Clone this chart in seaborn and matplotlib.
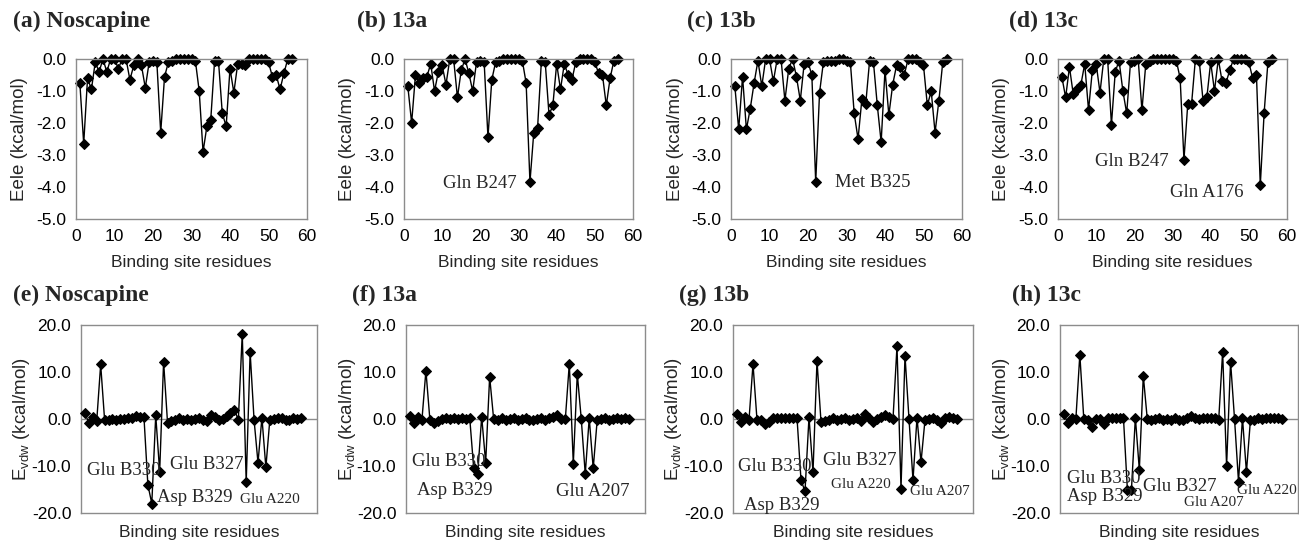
import matplotlib
matplotlib.use("Agg")
import matplotlib.pyplot as plt
import seaborn as sns
import pandas as pd
from matplotlib.ticker import FormatStrFormatter

sns.set_style("white")
plt.rcParams['font.family'] = ['Liberation Sans', 'DejaVu Sans']
plt.rcParams['mathtext.fontset'] = 'custom'
plt.rcParams['mathtext.rm'] = 'Liberation Sans'

residues = list(range(1, 57))

eele_noscapine = [-0.75, -2.65, -0.6, -0.95, -0.1, -0.4, 0.0, -0.4, 0.0, 0.0,
                  -0.3, 0.0, 0.0, -0.65, -0.2, 0.0, -0.2, -0.9, -0.1, -0.05,
                  -0.1, -2.3, -0.55, -0.1, -0.05, 0.0, 0.0, 0.0, 0.0, 0.0,
                  -0.05, -1.0, -2.9, -2.1, -1.9, -0.05, -0.05, -1.7, -2.1, -0.3,
                  -1.05, -0.15, -0.15, -0.2, 0.0, 0.0, 0.0, 0.0, 0.0, -0.1,
                  -0.55, -0.5, -0.95, -0.45, 0.0, 0.0]
eele_13a = [-0.85, -2.0, -0.5, -0.75, -0.6, -0.55, -0.15, -1.0, -0.4, -0.2,
            -0.8, 0.0, 0.0, -1.2, -0.35, 0.0, -0.45, -1.0, -0.1, -0.05,
            -0.1, -2.45, -0.65, -0.1, -0.05, 0.0, 0.0, 0.0, 0.0, 0.0,
            -0.05, -0.75, -3.85, -2.3, -2.15, -0.05, -0.1, -1.75, -1.45, -0.15,
            -0.95, -0.15, -0.5, -0.65, -0.1, 0.0, 0.0, 0.0, 0.0, -0.1,
            -0.45, -0.5, -1.45, -0.6, -0.05, 0.0]
eele_13b = [-0.85, -2.2, -0.55, -2.2, -1.55, -0.75, -0.05, -0.85, 0.0, 0.0,
            -0.7, 0.0, 0.0, -1.3, -0.3, 0.0, -0.55, -1.3, -0.15, -0.1,
            -0.5, -3.85, -1.05, -0.1, -0.05, -0.05, -0.05, 0.0, 0.0, -0.05,
            -0.1, -1.7, -2.5, -1.25, -1.4, -0.05, -0.1, -1.45, -2.6, -0.35,
            -1.75, -0.8, -0.2, -0.25, -0.5, 0.0, 0.0, 0.0, -0.1, -0.2,
            -1.45, -1.0, -2.3, -1.3, -0.1, 0.0]
eele_13c = [-0.55, -1.2, -0.25, -1.1, -0.95, -0.8, -0.15, -1.6, -0.35, -0.15,
            -1.05, 0.0, 0.0, -2.05, -0.4, -0.05, -1.0, -1.7, -0.1, -0.05,
            0.0, -1.6, -0.15, -0.05, 0.0, 0.0, 0.0, 0.0, 0.0, 0.0,
            -0.05, -0.6, -3.15, -1.4, -1.4, 0.0, -0.05, -1.3, -1.2, -0.1,
            -1.0, 0.0, -0.7, -0.75, -0.35, 0.0, 0.0, 0.0, 0.0, -0.1,
            -0.6, -0.5, -3.95, -1.7, -0.1, 0.0]

evdw_noscapine = [1.2, -0.8, 0.5, -0.4, 11.6, -0.2, -0.2, 0.0, -0.2, 0.0,
                  0.0, 0.3, 0.3, 0.7, 0.5, 0.5, -14.0, -18.0, 0.8, -11.2,
                  12.2, -0.8, -0.5, -0.3, 0.3, -0.2, 0.0, -0.2, 0.0, 0.3,
                  -0.3, -0.5, 0.8, 0.5, -0.2, 0.0, 0.6, 1.2, 2.0, -0.2,
                  18.1, -13.5, 14.2, -0.2, -9.3, 0.3, -10.3, -0.2, 0.0, 0.2,
                  0.3, -0.3, -0.2, 0.2, 0.0, 0.3]
evdw_13a = [0.7, -0.9, 0.4, -0.2, 10.3, -0.2, -0.8, -0.5, 0.0, 0.2,
            0.0, 0.2, 0.0, 0.2, 0.0, 0.2, -10.5, -11.7, 0.5, -9.3,
            9.0, 0.0, -0.2, 0.2, -0.2, 0.0, 0.2, -0.2, 0.0, 0.2,
            -0.3, -0.2, 0.0, 0.3, -0.2, 0.3, 0.4, 0.8, 0.0, 0.0,
            11.8, -9.5, 9.6, 0.0, -11.7, 0.2, -10.5, -0.2, 0.0, 0.2,
            -0.2, 0.0, 0.3, 0.0, 0.2, 0.0]
evdw_13b = [1.0, -0.6, 0.4, -0.2, 11.7, -0.2, -0.2, -1.1, -0.6, 0.2,
            0.3, 0.3, 0.3, 0.3, 0.3, 0.3, -13.0, -15.4, 0.4, -11.3,
            12.4, -0.6, -0.4, -0.2, 0.2, -0.2, 0.0, 0.2, -0.2, 0.0,
            0.2, -0.4, 1.0, 0.3, -0.7, 0.0, 0.5, 0.9, 0.5, 0.0,
            15.5, -14.8, 13.5, 0.0, -13.0, 0.3, -9.2, -0.2, 0.0, 0.2,
            -0.3, -0.8, 0.2, 0.5, 0.2, 0.0]
evdw_13c = [1.0, -0.9, 0.3, 0.0, 13.7, 0.0, -0.3, -1.7, 0.0, 0.0,
            -1.0, 0.2, 0.2, 0.2, 0.2, 0.2, -15.2, -15.2, 0.3, -10.8,
            9.2, 0.0, -0.2, 0.0, 0.2, -0.2, 0.0, -0.2, 0.2, -0.2,
            -0.3, 0.3, 0.6, 0.3, 0.0, 0.2, 0.3, 0.2, 0.3, -0.3,
            14.3, -10.0, 12.2, 0.0, -13.3, 0.2, -11.3, -0.3, -0.2, 0.2,
            0.0, 0.3, 0.3, 0.2, 0.3, 0.0]

top_titles = ["(a) Noscapine", "(b) 13a", "(c) 13b", "(d) 13c"]
bottom_titles = ["(e) Noscapine", "(f) 13a", "(g) 13b", "(h) 13c"]
top_series = [eele_noscapine, eele_13a, eele_13b, eele_13c]
bottom_series = [evdw_noscapine, evdw_13a, evdw_13b, evdw_13c]

# annotations: (text, x, y, ha, size)
top_notes = [
    [],
    [("Gln B247", 29.5, -3.9, 'right', 13.5)],
    [("Met B325", 27.0, -3.85, 'left', 13.5)],
    [("Gln B247", 9.6, -3.2, 'left', 13.5), ("Gln A176", 29.3, -4.17, 'left', 13.5)],
]
bottom_notes = [
    [("Glu B330", 1.6, -10.9, 'left', 13.5), ("Glu B327", 22.6, -9.6, 'left', 13.5),
     ("Asp B329", 19.2, -16.7, 'left', 13.5), ("Glu A220", 40.4, -17.2, 'left', 11)],
    [("Glu B330", 1.6, -9.1, 'left', 13.5), ("Asp B329", 2.7, -15.2, 'left', 13.5),
     ("Glu A207", 37.6, -15.5, 'left', 13.5)],
    [("Glu B330", 1.2, -10.1, 'left', 13.5), ("Glu B327", 22.4, -8.9, 'left', 13.5),
     ("Glu A220", 24.4, -14.0, 'left', 11), ("Asp B329", 2.7, -18.3, 'left', 13.5),
     ("Glu A207", 44.3, -15.5, 'left', 11)],
    [("Glu B330", 1.7, -12.6, 'left', 13.5), ("Asp B329", 1.7, -16.5, 'left', 13.5),
     ("Glu B327", 21.0, -14.4, 'left', 13.5), ("Glu A207", 31.2, -17.8, 'left', 11),
     ("Glu A220", 44.7, -15.3, 'left', 11)],
]

W, H = 1299, 547
fig = plt.figure(figsize=(W / 100, H / 100), dpi=100)

top_boxes = [(76, 307), (404, 633), (731, 962), (1058, 1287)]
bottom_boxes = [(81, 317), (406, 645), (733, 973), (1060, 1298)]
top_title_x = [13, 357, 687, 1009]
bottom_title_x = [13, 352, 679, 1012]

GRAY = '#8c8c8c'
SERIF = ['Liberation Serif', 'DejaVu Serif']


def make_ax(l, r, t, b):
    return fig.add_axes([l / W, 1 - b / H, (r - l) / W, (b - t) / H])


def style(ax):
    for s in ax.spines.values():
        s.set_color(GRAY)
        s.set_linewidth(1.0)
    ax.tick_params(axis='both', direction='out', color=GRAY, length=4, width=1,
                   labelsize=12.5, labelcolor='black', pad=3)


for i in range(4):
    l, r = top_boxes[i]
    ax = make_ax(l, r, 59, 219)
    df = pd.DataFrame({"residue": residues, "eele": top_series[i]})
    sns.lineplot(data=df, x="residue", y="eele", ax=ax, color='black', linewidth=1.0,
                 marker='D', markersize=5.5, markeredgecolor='black', clip_on=False)
    ax.set_xlim(0, 60)
    ax.set_ylim(-5, 0)
    ax.set_xticks(range(0, 61, 10))
    ax.set_yticks([-5, -4, -3, -2, -1, 0])
    ax.yaxis.set_major_formatter(FormatStrFormatter('%.1f'))
    style(ax)
    ax.set_xlabel("Binding site residues", fontsize=12.5)
    ax.set_ylabel("Eele (kcal/mol)", fontsize=13.5)
    ax.xaxis.set_label_coords(0.5, -43 / 160)
    ax.xaxis.label.set_va('center')
    ax.yaxis.set_label_coords(-56 / (r - l), 0.5)
    ax.yaxis.label.set_va('center')
    for txt, x, y, ha, sz in top_notes[i]:
        ax.text(x, y, txt, ha=ha, va='center', fontsize=sz, family=SERIF)
    fig.text(top_title_x[i] / W, 1 - 21 / H, top_titles[i], ha='left', va='center',
             fontsize=17, fontweight='bold', family=SERIF)

for i in range(4):
    l, r = bottom_boxes[i]
    ax = make_ax(l, r, 325, 513)
    df = pd.DataFrame({"residue": residues, "evdw": bottom_series[i]})
    ax.axhline(0, color=GRAY, linewidth=1.0, zorder=1)
    sns.lineplot(data=df, x="residue", y="evdw", ax=ax, color='black', linewidth=1.0,
                 marker='D', markersize=5.5, markeredgecolor='black', clip_on=False, zorder=3)
    ax.set_xlim(0, 60)
    ax.set_ylim(-20, 20)
    ax.set_xticks([])
    ax.set_yticks([-20, -10, 0, 10, 20])
    ax.yaxis.set_major_formatter(FormatStrFormatter('%.1f'))
    style(ax)
    ax.set_xlabel("Binding site residues", fontsize=12.5)
    ax.set_ylabel(r"$\mathregular{E_{vdw}}$ (kcal/mol)", fontsize=13.5)
    ax.xaxis.set_label_coords(0.5, -20 / 188)
    ax.xaxis.label.set_va('center')
    ax.yaxis.set_label_coords(-59 / (r - l), 0.5)
    ax.yaxis.label.set_va('center')
    for txt, x, y, ha, sz in bottom_notes[i]:
        ax.text(x, y, txt, ha=ha, va='center', fontsize=sz, family=SERIF, zorder=4)
    fig.text(bottom_title_x[i] / W, 1 - 295 / H, bottom_titles[i], ha='left', va='center',
             fontsize=17, fontweight='bold', family=SERIF)

fig.savefig("out.png", dpi=100, facecolor='white')
